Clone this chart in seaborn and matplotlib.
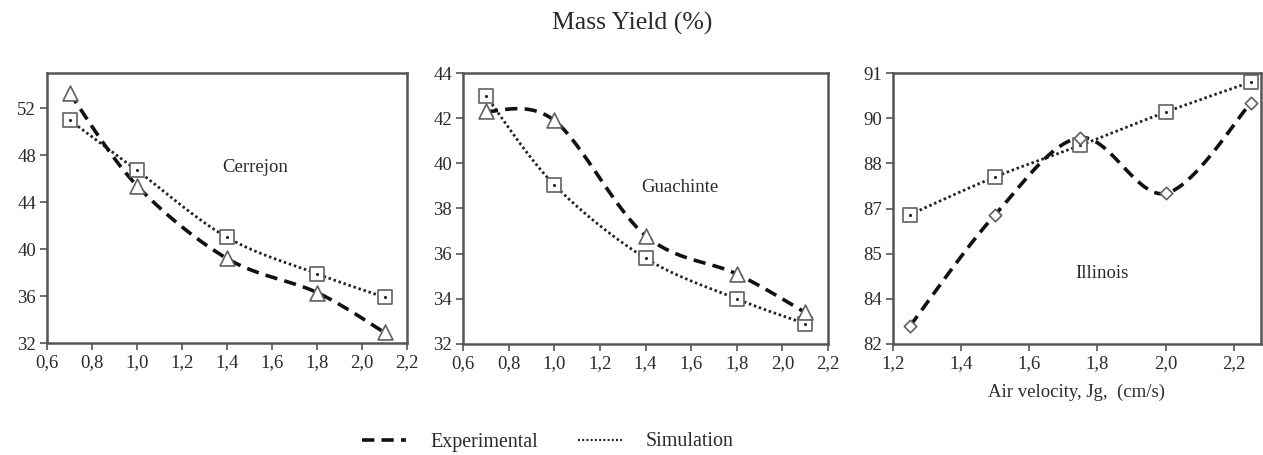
import numpy as np
import pandas as pd
import matplotlib
matplotlib.use("Agg")
import matplotlib.pyplot as plt
import seaborn as sns
from matplotlib.lines import Line2D

# ---------------- data ----------------
x_cg = [0.7, 1.0, 1.4, 1.8, 2.1]
cerrejon_exp = [53.3, 45.4, 39.2, 36.3, 32.9]
cerrejon_sim = [51.0, 46.7, 41.0, 37.9, 35.9]
guachinte_exp = [42.3, 41.9, 36.8, 35.1, 33.4]
guachinte_sim = [43.0, 39.05, 35.8, 34.0, 32.9]
x_il = [1.25, 1.5, 1.75, 2.0, 2.25]
illinois_exp = [82.6, 86.3, 88.85, 87.0, 90.0]
illinois_sim = [86.3, 87.55, 88.6, 89.7, 90.7]

panel_names = ["Cerrejon", "Guachinte", "Illinois"]
series_names = ["Experimental", "Simulation"]
title = "Mass Yield (%)"
xlabel3 = "Air velocity, Jg,  (cm/s)"

xt_cg = [0.6, 0.8, 1.0, 1.2, 1.4, 1.6, 1.8, 2.0, 2.2]
xt_cg_labels = ["0,6", "0,8", "1,0", "1,2", "1,4", "1,6", "1,8", "2,0", "2,2"]
xt_il = [1.2, 1.4, 1.6, 1.8, 2.0, 2.2]
xt_il_labels = ["1,2", "1,4", "1,6", "1,8", "2,0", "2,2"]
yt1 = [32, 36, 40, 44, 48, 52]
yt1_labels = ["32", "36", "40", "44", "48", "52"]
yt2 = [32, 34, 36, 38, 40, 42, 44]
yt2_labels = ["32", "34", "36", "38", "40", "42", "44"]
yt3 = [82, 83.5, 85, 86.5, 88, 89.5, 91]
yt3_labels = ["82", "84", "85", "87", "88", "90", "91"]

# ---------------- style ----------------
sns.set_theme(style="white")
plt.rcParams["font.family"] = ["Liberation Serif", "DejaVu Serif"]

SPINE = "#555555"
MK_EDGE = "#606060"
TXT = "#2a2a2a"


def smooth(xs, ys, n=30):
    """Catmull-Rom style smoothing for drawing the curve through the points."""
    P = np.column_stack([xs, ys]).astype(float)
    P = np.vstack([P[0], P, P[-1]])
    out = []
    t = np.linspace(0, 1, n)
    for i in range(1, len(P) - 2):
        p0, p1, p2, p3 = P[i - 1], P[i], P[i + 1], P[i + 2]
        c1 = p1 + (p2 - p0) / 6.0
        c2 = p2 - (p3 - p1) / 6.0
        seg = ((1 - t) ** 3)[:, None] * p1 + (3 * (1 - t) ** 2 * t)[:, None] * c1 \
            + (3 * (1 - t) * t ** 2)[:, None] * c2 + (t ** 3)[:, None] * p2
        out.append(seg if i == 1 else seg[1:])
    S = np.vstack(out)
    return S[:, 0], S[:, 1]


fig = plt.figure(figsize=(12.63, 4.55), dpi=100)
W, H = 1263, 455
boxes = [(47, 73, 407, 343), (463, 73, 828, 344), (893, 73, 1261, 344)]
axes = []
for (l, t, r, b) in boxes:
    axes.append(fig.add_axes([l / W, 1 - b / H, (r - l) / W, (b - t) / H]))

DASH = (0, (3.4, 2.0))
DOT = (0, (0.9, 1.0))

panels = [
    (x_cg, cerrejon_exp, cerrejon_sim, "^", (0.6, 2.2), (32, 55), xt_cg, xt_cg_labels, yt1, yt1_labels),
    (x_cg, guachinte_exp, guachinte_sim, "^", (0.6, 2.2), (32, 44), xt_cg, xt_cg_labels, yt2, yt2_labels),
    (x_il, illinois_exp, illinois_sim, "D", (1.2, 2.28), (82, 91), xt_il, xt_il_labels, yt3, yt3_labels),
]
ann_pos = [(255, 167), (680, 188), (1102, 273)]

for k, (ax, p) in enumerate(zip(axes, panels)):
    xs, ye, ysim, emk, xl, yl, xt, xtl, yt, ytl = p
    sx, sy = smooth(xs, ysim)
    ex, ey = smooth(xs, ye)
    sns.lineplot(x=sx, y=sy, ax=ax, color="#222222", linestyle=DOT, linewidth=2.0,
                 sort=False, estimator=None, zorder=2)
    sns.lineplot(x=ex, y=ey, ax=ax, color="#111111", linestyle=DASH, linewidth=2.6,
                 sort=False, estimator=None, zorder=3)
    sns.scatterplot(x=xs, y=ysim, ax=ax, marker="s", s=95, facecolor="white",
                    edgecolor=MK_EDGE, linewidth=1.2, zorder=4, clip_on=False)
    sns.scatterplot(x=xs, y=ysim, ax=ax, marker="o", s=5, color="#222222",
                    linewidth=0, zorder=5, clip_on=False)
    esz = 115 if emk == "^" else 40
    sns.scatterplot(x=xs, y=ye, ax=ax, marker=emk, s=esz, facecolor="white",
                    edgecolor=MK_EDGE, linewidth=1.2, zorder=6, clip_on=False)
    ax.set_xlim(*xl)
    ax.set_ylim(*yl)
    ax.set_xticks(xt)
    ax.set_xticklabels(xtl)
    ax.set_yticks(yt)
    ax.set_yticklabels(ytl)
    ax.tick_params(axis="both", direction="out", length=5, width=1.2, color=SPINE,
                   labelsize=13.5, labelcolor=TXT, pad=3,
                   bottom=True, left=True)
    for s in ax.spines.values():
        s.set_visible(True)
        s.set_color(SPINE)
        s.set_linewidth(1.8)
    ax.set_xlabel("")
    ax.set_ylabel("")
    ax.grid(False)
    bx, by = ann_pos[k]
    fig.text(bx / W, 1 - by / H, panel_names[k], ha="center", va="center",
             fontsize=13.5, color=TXT)

axes[2].set_xlabel(xlabel3, fontsize=13.5, color=TXT, labelpad=8)

fig.text(632 / W, 1 - 23 / H, title, ha="center", va="center", fontsize=18.5, color=TXT)

handles = [Line2D([], [], color="#111111", linestyle=DASH, linewidth=2.6),
           Line2D([], [], color="#222222", linestyle=DOT, linewidth=1.6)]
fig.legend(handles, series_names, loc="center", bbox_to_anchor=(548 / W, 1 - 442 / H),
           ncol=2, frameon=False, fontsize=14.4, handlelength=2.2, handletextpad=1.2,
           columnspacing=2.0, labelcolor=TXT)

fig.savefig("out.png", dpi=100, facecolor="white")
